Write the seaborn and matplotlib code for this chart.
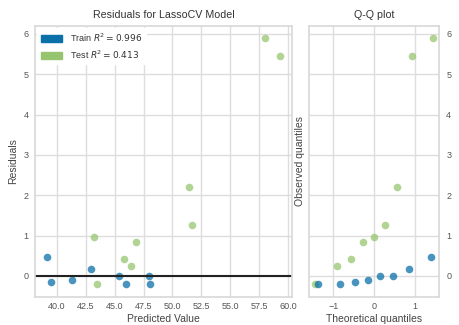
import statistics
import numpy as np
import pandas as pd
import seaborn as sns
import matplotlib
matplotlib.use("Agg")
import matplotlib.pyplot as plt
from matplotlib.patches import Patch

# Predicted values and residuals of the LassoCV model
train_pred = [39.14, 39.53, 41.32, 42.96, 45.40, 46.00, 48.00, 48.06]
train_resid = [0.48, -0.16, -0.11, 0.18, 0.01, -0.19, 0.01, -0.21]
test_pred = [43.22, 43.50, 45.81, 46.42, 46.88, 51.42, 51.66, 58.01, 59.34]
test_resid = [0.96, -0.21, 0.42, 0.24, 0.85, 2.20, 1.25, 5.89, 5.46]
train_r2 = 0.996
test_r2 = 0.413

train_color = "#0a70a8"
test_color = "#97c56f"

sns.set_theme(style="whitegrid")
plt.rcParams["font.family"] = ["Liberation Sans", "DejaVu Sans"]
plt.rcParams.update({
    "axes.edgecolor": "#d9d9d9",
    "grid.color": "#dddddd",
    "axes.labelcolor": "#444444",
    "xtick.color": "#555555",
    "ytick.color": "#555555",
    "text.color": "#333333",
})


def osm_quantiles(n):
    # Filliben order-statistic medians mapped through the normal ppf
    nd = statistics.NormalDist()
    m = [(i - 0.3175) / (n + 0.365) for i in range(1, n + 1)]
    m[-1] = 0.5 ** (1.0 / n)
    m[0] = 1 - m[-1]
    return [nd.inv_cdf(p) for p in m]


train_df = pd.DataFrame({"pred": train_pred, "resid": train_resid})
test_df = pd.DataFrame({"pred": test_pred, "resid": test_resid})
qq_train = pd.DataFrame({"theo": osm_quantiles(len(train_resid)),
                         "obs": sorted(train_resid)})
qq_test = pd.DataFrame({"theo": osm_quantiles(len(test_resid)),
                        "obs": sorted(test_resid)})

fig = plt.figure(figsize=(4.59, 3.25), dpi=100)
ax = fig.add_axes([0.0769, 0.0871, 0.5593, 0.833])
qq = fig.add_axes([0.6739, 0.0871, 0.2832, 0.833], sharey=ax)

pt = dict(s=30, alpha=0.75, linewidth=0, legend=False)
sns.scatterplot(data=train_df, x="pred", y="resid", color=train_color, ax=ax, **pt)
sns.scatterplot(data=test_df, x="pred", y="resid", color=test_color, ax=ax, **pt)
ax.axhline(0, color="#222222", linewidth=1.5, zorder=1)

ax.set_xticks([40.0, 42.5, 45.0, 47.5, 50.0, 52.5, 55.0, 57.5, 60.0])
ax.set_xticklabels([f"{v:.1f}" for v in ax.get_xticks()])
ax.set_title("Residuals for LassoCV Model", fontsize=7.7, pad=6)
ax.set_xlabel("Predicted Value", fontsize=7.5, labelpad=2)
ax.set_ylabel("Residuals", fontsize=7.5, labelpad=4)
ax.tick_params(labelsize=6.5, length=0)
ax.tick_params(axis="x", pad=4)
ax.tick_params(axis="y", pad=5)

handles = [Patch(color=train_color, label=f"Train $R^2 = {train_r2:.3f}$"),
           Patch(color=test_color, label=f"Test $R^2 = {test_r2:.3f}$")]
leg = ax.legend(handles=handles, loc="upper left", fontsize=6.5, frameon=True,
                facecolor="white", edgecolor="white", framealpha=1,
                handlelength=2.4, handleheight=0.8, borderaxespad=0.2)

sns.scatterplot(data=qq_test, x="theo", y="obs", color=test_color, ax=qq, **pt)
sns.scatterplot(data=qq_train, x="theo", y="obs", color=train_color, ax=qq, **pt)
qq.set_xticks([-1, 0, 1])
qq.set_xticklabels(["\u22121", "0", "1"])
qq.yaxis.tick_right()
qq.tick_params(labelsize=6.5, length=0)
qq.tick_params(axis="x", pad=4)
qq.tick_params(axis="y", pad=5, labelright=True, labelleft=False)
qq.set_title("Q-Q plot", fontsize=7.7, pad=6)
qq.set_xlabel("Theoretical quantiles", fontsize=7.5, labelpad=2)
qq.set_ylabel("Observed quantiles", fontsize=7.5, labelpad=3)
qq.yaxis.set_label_position("left")

fig.savefig("out.png", dpi=100)
